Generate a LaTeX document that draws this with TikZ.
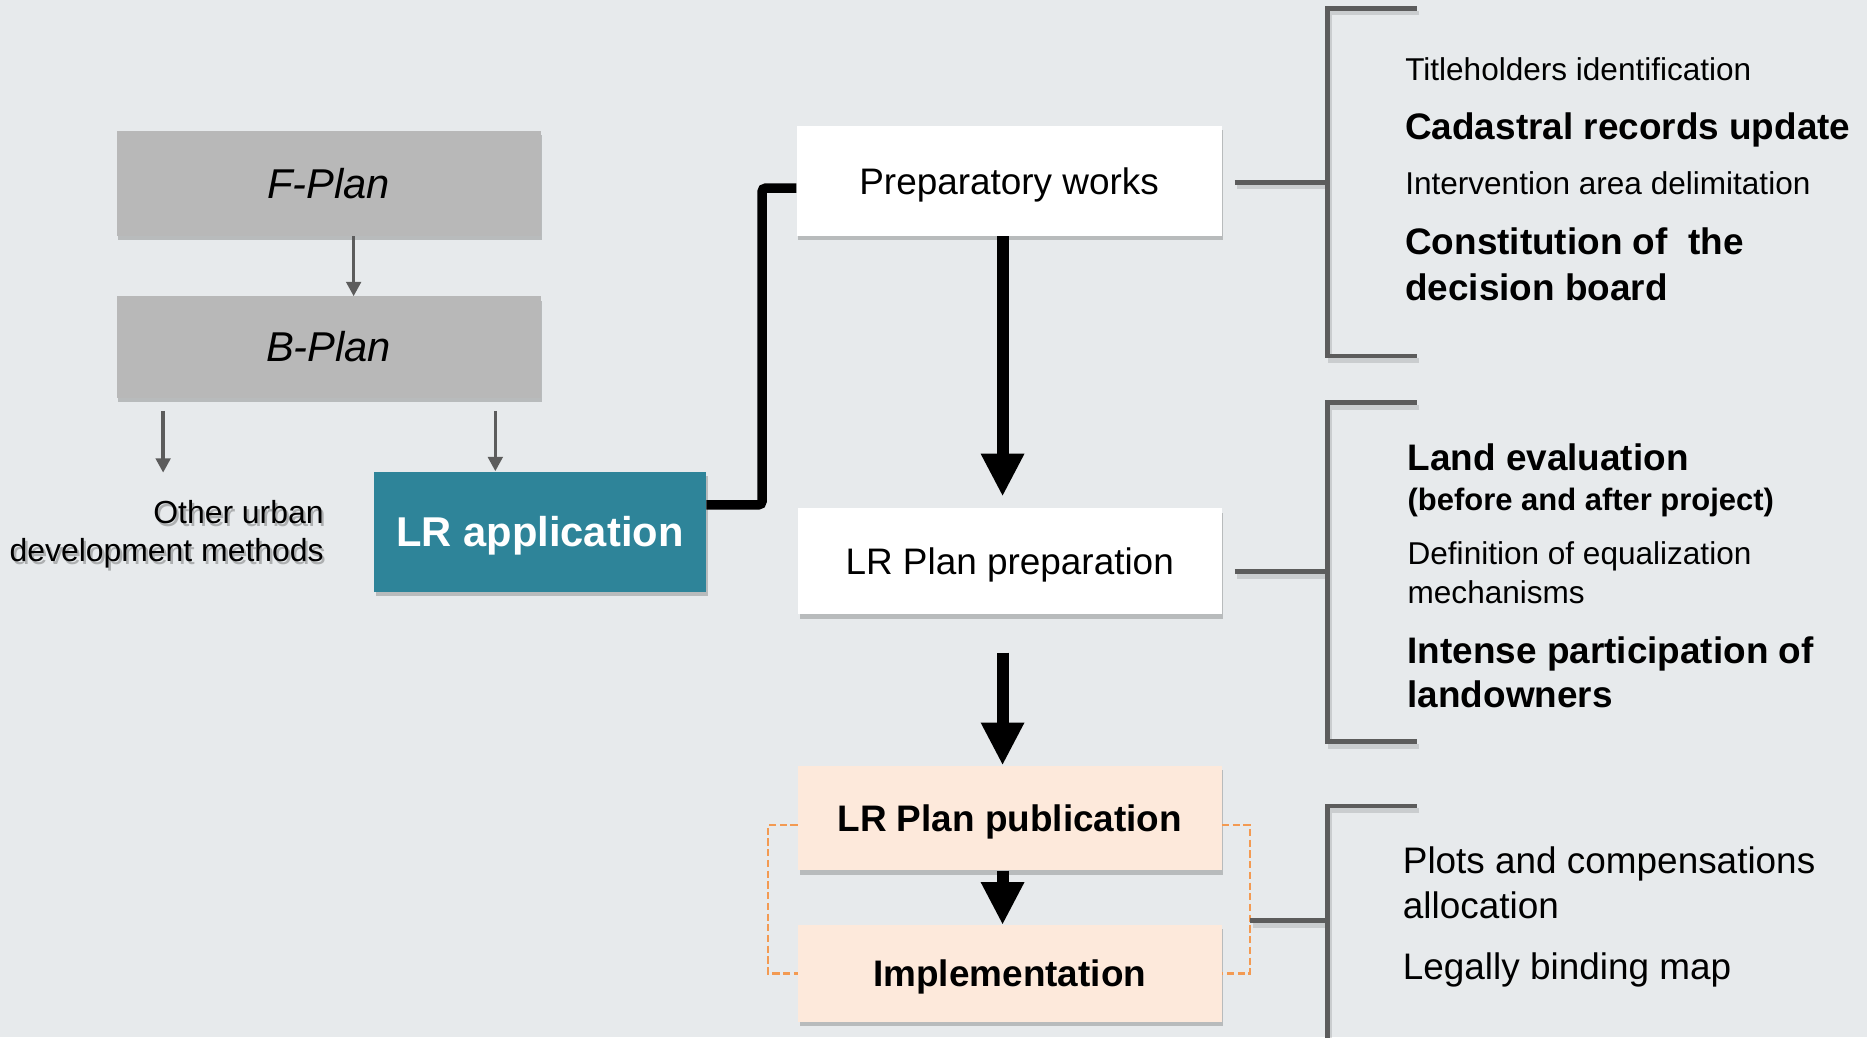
\documentclass[tikz,border=0pt]{standalone}
\usepackage{fontspec}
\setmainfont{Liberation Sans}
\usetikzlibrary{arrows.meta,shadows,calc}

\definecolor{bgcol}{HTML}{E7EAEC}
\definecolor{plangray}{HTML}{B8B8B8}
\definecolor{teal}{HTML}{2E8499}
\definecolor{peach}{HTML}{FDE9DB}
\definecolor{linegray}{HTML}{5C5C5C}
\definecolor{dashorange}{HTML}{F39A52}

\tikzset{
  box/.style={rectangle, inner sep=0pt, minimum width=356pt, text=black,
    text depth=0pt,
    drop shadow={shadow xshift=1.5pt, shadow yshift=-3.5pt, opacity=0.2, fill=black}},
  planbox/.style={box, fill=plangray, text height=25pt, font=\fontsize{35}{40}\selectfont\itshape},
  stagebox/.style={box, fill=white, text height=22.2pt, font=\fontsize{31}{37}\selectfont},
  pubbox/.style={box, fill=peach, text height=22.2pt, font=\fontsize{31}{37}\selectfont\bfseries},
  appbox/.style={box, fill=teal, text=white, text height=25pt, font=\fontsize{35}{40}\selectfont\bfseries},
  thinarrow/.style={draw=linegray, line width=3pt, -{Triangle[width=12pt,length=12pt]}},
  bigarrow/.style={draw=black, line width=10pt, -{Triangle[width=34pt,length=36pt]}},
  bracketline/.style={draw=linegray, line width=4pt},
  shadowline/.style={draw=black, opacity=0.12, line width=4pt},
  dashlink/.style={draw=dashorange, line width=2pt, dash pattern=on 6pt off 3pt},
  item/.style={anchor=west, inner sep=0pt, align=left},
  itembig/.style={item, font=\fontsize{31}{37.5}\selectfont},
  itemsmall/.style={item, font=\fontsize{26.5}{32}\selectfont},
}

\begin{document}
\begin{tikzpicture}[x=1pt, y=-1pt]
  % canvas
  \fill[bgcol] (0,0) rectangle (1568,871);
  \useasboundingbox (0,0) rectangle (1568,871);

  % planning instruments
  \node[planbox, minimum height=88pt] (fplan) at (276,154) {F-Plan};
  \node[planbox, minimum height=85pt] (bplan) at (276,291.5) {B-Plan};
  \node[appbox, minimum width=279pt, minimum height=101pt] (lrapp) at (453.5,446.5) {LR application};

  % other methods label with its soft shadow
  \node[anchor=east, align=right, inner sep=0pt, text=black, opacity=0.25,
        font=\fontsize{26.8}{32}\selectfont] at (274,451) {Other urban\\development methods};
  \node[anchor=east, align=right, inner sep=0pt,
        font=\fontsize{26.8}{32}\selectfont] (other) at (272,449) {Other urban\\development methods};

  % LR stages
  \node[stagebox, minimum width=357pt, minimum height=92pt] (prep) at (847.5,152) {Preparatory works};
  \node[stagebox, minimum height=89pt] (lrprep) at (848,471.5) {LR Plan preparation};
  \node[pubbox, minimum height=88pt] (pub) at (848,687) {LR Plan publication};
  \node[pubbox, minimum height=81pt] (impl) at (848,817.5) {Implementation};

  % arrows among the planning instruments
  \draw[thinarrow] ([xshift=21pt]fplan.south) -- ([xshift=21pt]bplan.north);
  \coordinate (bl) at (137,345);
  \coordinate (blend) at (137,397);
  \draw[thinarrow] (bl) -- (blend);
  \coordinate (br) at (416,345);
  \draw[thinarrow] (br) -- (br |- lrapp.north);

  % link from LR application to the stages
  \draw[line width=8pt, rounded corners=3pt]
    (lrapp.east |- 0,424) -- (640,424) -- (640,158) -- (prep.west |- 0,158);

  % stage arrows
  \coordinate (a1) at (842,417);
  \draw[bigarrow] (prep.south -| a1) -- (a1);
  \coordinate (a2) at (842,548);
  \draw[bigarrow] (a2) -- (a2 |- pub.north);
  \draw[bigarrow] (pub.south -| a2) -- (impl.north -| a2);

  % dashed grouping of publication and implementation
  \coordinate (dl) at (645,0);
  \coordinate (dr) at (1050,0);
  \draw[dashlink] ([yshift=-6pt]pub.west) -| (dl |- impl.west) -- (impl.west);
  \draw[dashlink] ([yshift=-6pt]pub.east) -| (dr |- impl.east) -- (impl.east);

  % brackets (faint shadow first)
  \begin{scope}[shift={(2,4)}]
    \draw[shadowline] (1190,7) -- (1115,7) -- (1115,299) -- (1190,299);
    \draw[shadowline] (1190,338) -- (1115,338) -- (1115,623) -- (1190,623);
    \draw[shadowline] (1190,677) -- (1115,677) -- (1115,875);
    \draw[shadowline] (1037,153) -- (1115,153);
    \draw[shadowline] (1037,480) -- (1115,480);
    \draw[shadowline] (1050,773) -- (1115,773);
  \end{scope}
  \coordinate (k1) at (1115,153);
  \coordinate (k2) at (1115,480);
  \coordinate (k3) at (1115,773);
  \draw[bracketline] (1190,7) -- (1115,7) -- (1115,299) -- (1190,299);
  \draw[bracketline] (1190,338) -- (1115,338) -- (1115,623) -- (1190,623);
  \draw[bracketline] (1190,677) -- (1115,677) -- (1115,875);
  \draw[bracketline] ([xshift=11pt]prep.east |- k1) -- (k1);
  \draw[bracketline] ([xshift=11pt]lrprep.east |- k2) -- (k2);
  \draw[bracketline] (dr |- k3) -- (k3);

  % preparatory works items
  \node[itemsmall] (t1) at (1180,58) {Titleholders identification};
  \node[itembig, font=\fontsize{31}{37.5}\selectfont\bfseries] (t2) at (1180,109) {Cadastral records update};
  \node[itemsmall] (t3) at (1180,154) {Intervention area delimitation};
  \node[itembig, font=\fontsize{31}{38}\selectfont\bfseries] (t4) at (1180,222) {Constitution of\ \ the\\decision board};

  % plan preparation items
  \node[itembig, font=\fontsize{31}{37.5}\selectfont\bfseries] (u1) at (1182,384) {Land evaluation};
  \node[itemsmall, font=\fontsize{26}{32}\selectfont\bfseries] (u2) at (1182,422) {(before and after project)};
  \node[itemsmall] (u3) at (1182,481) {Definition of equalization\\mechanisms};
  \node[itembig, font=\fontsize{31}{37}\selectfont\bfseries] (u4) at (1182,564.5) {Intense participation of\\landowners};

  % publication and implementation items
  \node[itembig] (v1) at (1178,741.5) {Plots and compensations\\allocation};
  \node[itembig] (v2) at (1178,815) {Legally binding map};
\end{tikzpicture}
\end{document}
